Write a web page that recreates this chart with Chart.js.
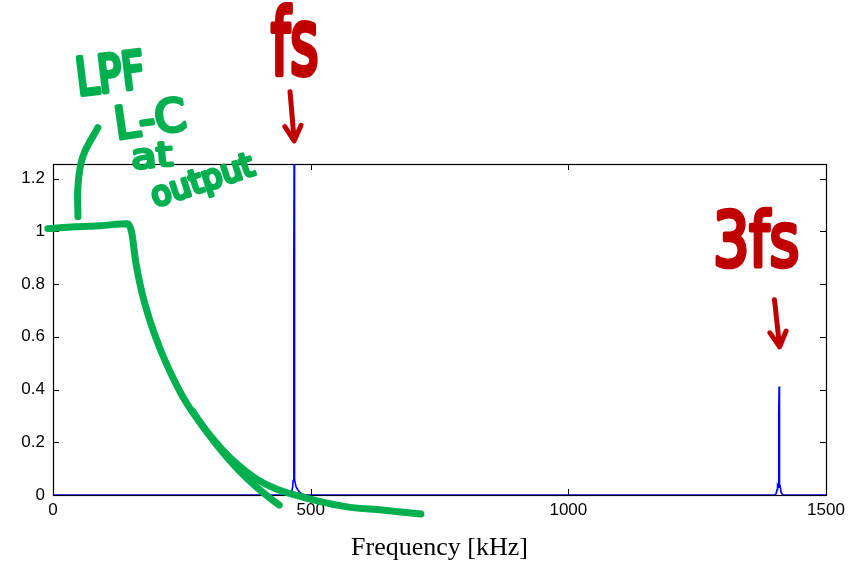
<!DOCTYPE html>
<html><head><meta charset="utf-8">
<script src="https://cdn.jsdelivr.net/npm/chart.js@4.4.1/dist/chart.umd.min.js"></script>
<style>html,body{margin:0;padding:0;background:#fff}canvas{display:block}</style>
</head><body>
<canvas id="c" width="854" height="561"></canvas>
<script>
// ---- tick labels ----
const xTickValues = [0, 500, 1000, 1500];
const xTickLabels = ['0', '500', '1000', '1500'];
const yTickValues = [0, 0.2, 0.4, 0.6, 0.8, 1.0, 1.2];
const yTickLabels = ['0', '0.2', '0.4', '0.6', '0.8', '1', '1.2'];

// ---- spectrum (blue) ----
const spectrumFreq = [0, 455, 460, 463, 465, 466, 467, 467.6, 468, 468.5, 469, 470, 472, 475, 478, 482, 490,
                      1395, 1400, 1403, 1405, 1406, 1407, 1408, 1408.6, 1409, 1409.5, 1410, 1411, 1413, 1416, 1425, 1500];
const spectrumMag  = [0, 0, 0.003, 0.012, 0.03, 0.055, 0.2, 0.9, 1.32, 0.4, 0.06, 0.045, 0.03, 0.02, 0.012, 0.005, 0,
                      0, 0, 0.005, 0.02, 0.035, 0.03, 0.1, 0.3, 0.411, 0.1, 0.04, 0.035, 0.01, 0, 0, 0];

// ---- hand-drawn LPF sketch (green) ----
const lpfFreq = [-10, 43, 91, 145, 152.8, 160.5, 172.1, 187.6, 207, 230.2, 255.3, 284.3, 317.2, 348.2, 394.6, 433.3, 477.8, 530, 574, 638, 714];
const lpfMag  = [1.01, 1.017, 1.021, 1.028, 0.994, 0.884, 0.771, 0.664, 0.558, 0.455, 0.361, 0.277, 0.197, 0.133, 0.061, 0.023, -0.004, -0.03, -0.046, -0.057, -0.072];
const tailFreq = [270, 300, 330, 360, 395, 420, 439];
const tailMag  = [0.32, 0.235, 0.16, 0.095, 0.03, -0.01, -0.038];
const leaderFreq = [87, 58, 48.4, 48.4];
const leaderMag  = [1.393, 1.283, 1.169, 1.055];

// ---- handwritten notes ----
const noteTexts = ['LPF', 'L-C', 'at', 'output', 'fs', '3fs'];
const noteFreq  = [112, 190, 193, 292, 468, 1366];
const noteMag   = [1.601, 1.431, 1.287, 1.184, 1.727, 0.975];
const noteColors = ['#00b050', '#00b050', '#00b050', '#00b050', '#c00000', '#c00000'];
const noteStyle = [
  {w: 63, h: 38, angle: -7},
  {w: 66, h: 34, angle: -8},
  {w: 38, h: 24, angle: -5},
  {w: 104, h: 30, angle: -18},
  {w: 44, h: 70, angle: 0},
  {w: 80, h: 58, angle: 0}
];
const arrowFrom = [[460, 1.529], [1400, 0.740]];
const arrowTo   = [[468, 1.343], [1410, 0.562]];

const pts = (xs, ys) => xs.map((x, i) => ({x, y: ys[i]}));

const framePlugin = {
  id: 'frame',
  beforeDatasetsDraw(chart) {
    const {ctx, chartArea: a, scales} = chart;
    ctx.save();
    ctx.strokeStyle = '#000';
    ctx.lineWidth = 1.2;
    ctx.strokeRect(a.left + 0.5, a.top + 0.5, a.right - a.left, a.bottom - a.top);
    ctx.lineWidth = 1;
    const L = 6;
    ctx.beginPath();
    xTickValues.forEach(v => {
      const px = Math.round(scales.x.getPixelForValue(v)) + 0.5;
      ctx.moveTo(px, a.bottom); ctx.lineTo(px, a.bottom - L);
      ctx.moveTo(px, a.top); ctx.lineTo(px, a.top + L);
    });
    yTickValues.forEach(v => {
      const py = Math.round(scales.y.getPixelForValue(v)) + 0.5;
      ctx.moveTo(a.left, py); ctx.lineTo(a.left + L, py);
      ctx.moveTo(a.right, py); ctx.lineTo(a.right - L, py);
    });
    ctx.stroke();
    ctx.restore();
  }
};

const notesPlugin = {
  id: 'notes',
  afterDraw(chart) {
    const {ctx, scales} = chart;
    const xs = scales.x, ys = scales.y;
    ctx.save();
    noteTexts.forEach((t, i) => {
      const st = noteStyle[i];
      const cx = xs.getPixelForValue(noteFreq[i]);
      const cy = ys.getPixelForValue(noteMag[i]);
      ctx.save();
      ctx.font = '100px "DejaVu Sans"';
      const m = ctx.measureText(t);
      const tw = m.actualBoundingBoxLeft + m.actualBoundingBoxRight;
      const th = m.actualBoundingBoxAscent + m.actualBoundingBoxDescent;
      ctx.translate(cx, cy);
      ctx.rotate(st.angle * Math.PI / 180);
      const sx = st.w / tw, sy = st.h / th;
      ctx.scale(sx, sy);
      ctx.fillStyle = noteColors[i];
      ctx.strokeStyle = noteColors[i];
      ctx.lineJoin = 'round';
      ctx.lineCap = 'round';
      ctx.lineWidth = 3.6 / sx;
      ctx.textAlign = 'left';
      ctx.textBaseline = 'alphabetic';
      const ox = -tw / 2 + m.actualBoundingBoxLeft;
      const oy = (m.actualBoundingBoxAscent - m.actualBoundingBoxDescent) / 2;
      ctx.fillText(t, ox, oy);
      ctx.strokeText(t, ox, oy);
      ctx.restore();
    });
    ctx.strokeStyle = '#c00000';
    ctx.lineWidth = 5;
    ctx.lineCap = 'round';
    ctx.lineJoin = 'round';
    arrowFrom.forEach((f, i) => {
      const x1 = xs.getPixelForValue(f[0]), y1 = ys.getPixelForValue(f[1]);
      const x2 = xs.getPixelForValue(arrowTo[i][0]), y2 = ys.getPixelForValue(arrowTo[i][1]);
      const ang = Math.atan2(y2 - y1, x2 - x1);
      const hl = 17;
      ctx.beginPath();
      ctx.moveTo(x1, y1); ctx.lineTo(x2, y2);
      ctx.moveTo(x2 - hl * Math.cos(ang - 0.5), y2 - hl * Math.sin(ang - 0.5));
      ctx.lineTo(x2, y2);
      ctx.lineTo(x2 - hl * Math.cos(ang + 0.5), y2 - hl * Math.sin(ang + 0.5));
      ctx.stroke();
    });
    ctx.restore();
  }
};

const green = {borderColor: '#00b050', borderWidth: 7, pointRadius: 0, clip: false,
               borderCapStyle: 'round', borderJoinStyle: 'round', fill: false};

new Chart(document.getElementById('c'), {
  type: 'line',
  data: {
    datasets: [
      Object.assign({data: pts(lpfFreq, lpfMag), cubicInterpolationMode: 'monotone'}, green),
      Object.assign({data: pts(tailFreq, tailMag), cubicInterpolationMode: 'monotone'}, green),
      Object.assign({data: pts(leaderFreq, leaderMag), tension: 0.4}, green),
      {data: pts(spectrumFreq, spectrumMag), borderColor: '#0000ff', borderWidth: 1.6, pointRadius: 0, tension: 0, fill: false}
    ]
  },
  options: {
    responsive: false,
    animation: false,
    events: [],
    plugins: {legend: {display: false}, tooltip: {enabled: false}},
    layout: {padding: {left: 0, top: 164, right: 28, bottom: 0}},
    scales: {
      x: {
        type: 'linear', min: 0, max: 1500,
        afterFit(s) { s.height = 66; },
        afterBuildTicks(s) { s.ticks = xTickValues.map(v => ({value: v})); },
        grid: {display: false, drawTicks: false},
        border: {display: false},
        ticks: {padding: 5, color: '#000', font: {family: 'Liberation Sans', size: 17},
                maxRotation: 0, autoSkip: false,
                callback: (v) => xTickLabels[xTickValues.indexOf(v)]},
        title: {display: true, text: 'Frequency [kHz]', color: '#000',
                font: {family: 'Liberation Serif', size: 26, lineHeight: 1.0}, padding: {top: 0, bottom: 0}}
      },
      y: {
        type: 'linear', min: 0, max: 1.255,
        afterFit(s) { s.width = 53; },
        afterBuildTicks(s) { s.ticks = yTickValues.map(v => ({value: v})); },
        grid: {display: false, drawTicks: false},
        border: {display: false},
        ticks: {padding: 8, color: '#000', font: {family: 'Liberation Sans', size: 17},
                autoSkip: false,
                callback: (v) => { const k = yTickValues.findIndex(t => Math.abs(t - v) < 1e-9); return k >= 0 ? yTickLabels[k] : ''; }}
      }
    }
  },
  plugins: [framePlugin, notesPlugin]
});
</script>
</body></html>
